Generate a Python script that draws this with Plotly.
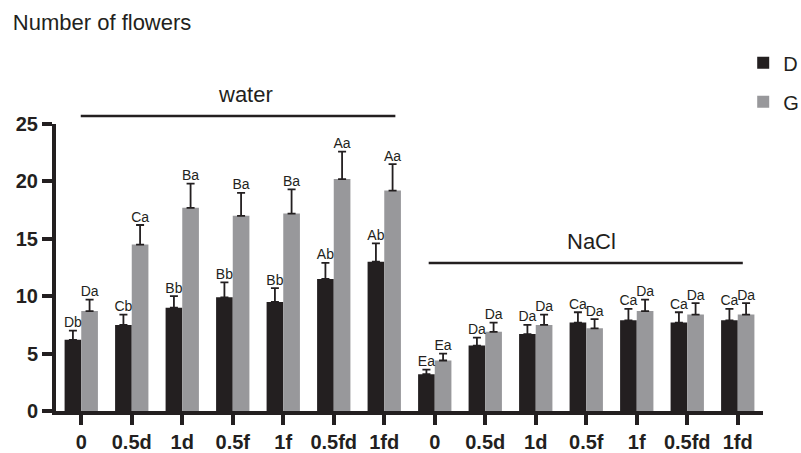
import plotly.graph_objects as go

labels = ["0", "0.5d", "1d", "0.5f", "1f", "0.5fd", "1fd",
          "0", "0.5d", "1d", "0.5f", "1f", "0.5fd", "1fd"]
d_vals = [6.2, 7.5, 9.0, 9.9, 9.5, 11.5, 13.0,
          3.2, 5.7, 6.7, 7.7, 7.9, 7.7, 7.9]
d_err = [0.8, 0.9, 1.0, 1.3, 1.2, 1.4, 1.6,
         0.4, 0.7, 0.8, 0.9, 1.0, 0.9, 1.0]
g_vals = [8.7, 14.5, 17.7, 17.0, 17.2, 20.2, 19.2,
          4.4, 6.9, 7.5, 7.2, 8.7, 8.4, 8.4]
g_err = [1.0, 1.7, 2.1, 2.0, 2.1, 2.4, 2.3,
         0.6, 0.8, 0.9, 0.8, 1.0, 1.0, 1.0]
d_letters = ["Db", "Cb", "Bb", "Bb", "Bb", "Ab", "Ab",
             "Ea", "Da", "Da", "Ca", "Ca", "Ca", "Ca"]
g_letters = ["Da", "Ca", "Ba", "Ba", "Ba", "Aa", "Aa",
             "Ea", "Da", "Da", "Da", "Da", "Da", "Da"]
y_ticks = [0, 5, 10, 15, 20, 25]

BLACK = "#231f20"
GRAY = "#98989b"
FONT = "Liberation Sans, Arial, sans-serif"
YMAX = 25

x = list(range(len(labels)))
off = 0.165

fig = go.Figure()
fig.add_trace(go.Bar(
    x=x, y=d_vals, name="D", marker=dict(color=BLACK, line=dict(width=0)),
    error_y=dict(type="data", array=d_err, arrayminus=[0] * len(d_err),
                 symmetric=False, color=BLACK, thickness=1.8, width=4),
    legendgroup="D"))
fig.add_trace(go.Bar(
    x=x, y=g_vals, name="G", marker=dict(color=GRAY, line=dict(width=0)),
    error_y=dict(type="data", array=g_err, arrayminus=[0] * len(g_err),
                 symmetric=False, color=BLACK, thickness=1.8, width=4),
    legendgroup="G"))

fig.add_trace(go.Scatter(
    x=[i - off for i in x], y=[v + e for v, e in zip(d_vals, d_err)],
    text=d_letters, mode="text", textposition="top center",
    textfont=dict(family=FONT, size=14, color=BLACK),
    showlegend=False, cliponaxis=False))
fig.add_trace(go.Scatter(
    x=[i + off for i in x], y=[v + e for v, e in zip(g_vals, g_err)],
    text=g_letters, mode="text", textposition="top center",
    textfont=dict(family=FONT, size=14, color=BLACK),
    showlegend=False, cliponaxis=False))

# group brackets (y in paper units, since water lies above the axis range)
fig.add_shape(type="line", xref="x", yref="paper", x0=-0.01, x1=6.22,
              y0=25.7 / YMAX, y1=25.7 / YMAX, line=dict(color=BLACK, width=2.5))
fig.add_shape(type="line", xref="x", yref="paper", x0=6.88, x1=13.1,
              y0=12.9 / YMAX, y1=12.9 / YMAX, line=dict(color=BLACK, width=2.5))
fig.add_annotation(x=3.26, y=27.6 / YMAX, xref="x", yref="paper", text="water",
                   showarrow=False, yanchor="middle", xanchor="center",
                   font=dict(family=FONT, size=22, color=BLACK))
fig.add_annotation(x=10.1, y=14.8 / YMAX, xref="x", yref="paper", text="NaCl",
                   showarrow=False, yanchor="middle", xanchor="center",
                   font=dict(family=FONT, size=22, color=BLACK))

fig.update_layout(
    width=801, height=453,
    margin=dict(l=56, r=38, t=124, b=42, autoexpand=False),
    paper_bgcolor="white", plot_bgcolor="white",
    barmode="group", bargap=0.34, bargroupgap=0,
    font=dict(family=FONT, color=BLACK),
    title=dict(text="Number of flowers", xref="container", yref="container",
               x=0.016, xanchor="left", y=1 - 22 / 453, yanchor="middle",
               font=dict(family=FONT, size=22, color=BLACK)),
    legend=dict(x=0.972, xanchor="left", y=1.281, yanchor="top",
                font=dict(family=FONT, size=20, color=BLACK),
                tracegroupgap=10, bgcolor="rgba(0,0,0,0)"),
    showlegend=True,
)
fig.update_xaxes(
    range=[-0.5, 13.5], tickmode="array", tickvals=x, ticktext=labels,
    showline=True, linecolor=BLACK, linewidth=4, showgrid=False, zeroline=False,
    ticks="outside", ticklen=10, tickwidth=4, tickcolor=BLACK,
    tickfont=dict(family=FONT, size=20, color=BLACK, weight="bold"))
fig.update_yaxes(
    range=[0, YMAX], tickmode="array", tickvals=y_ticks,
    showline=True, linecolor=BLACK, linewidth=4, showgrid=False, zeroline=False,
    ticks="outside", ticklen=10, tickwidth=4, tickcolor=BLACK,
    tickfont=dict(family=FONT, size=20, color=BLACK, weight="bold"))

fig.write_html("out.html")
